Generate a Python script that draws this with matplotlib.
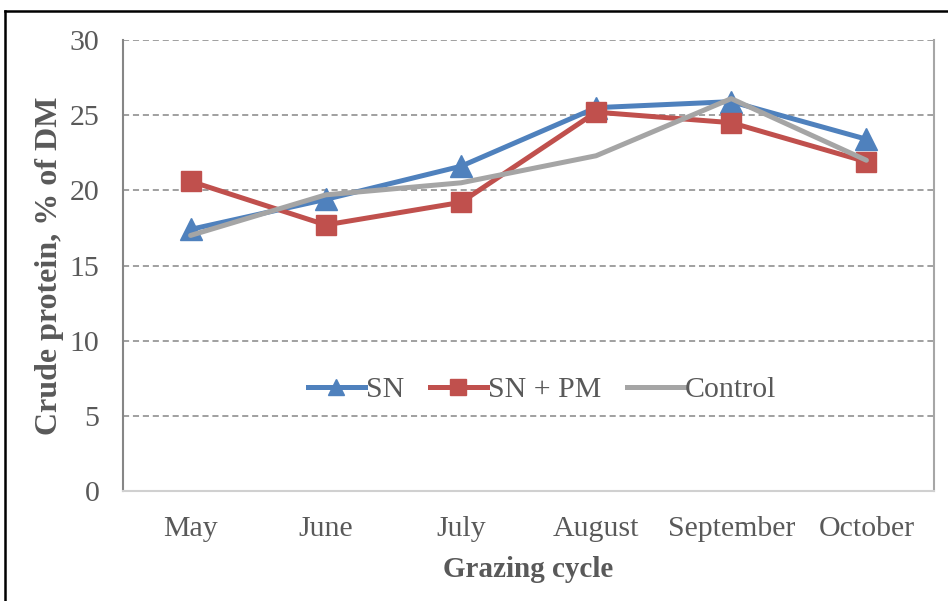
import matplotlib
matplotlib.use('Agg')
import matplotlib.pyplot as plt
from matplotlib.lines import Line2D

plt.rcParams['font.family'] = ['Liberation Serif', 'DejaVu Serif']

months = ['May', 'June', 'July', 'August', 'September', 'October']
sn = [17.4, 19.4, 21.6, 25.5, 25.9, 23.4]
sn_pm = [20.6, 17.7, 19.2, 25.2, 24.5, 21.9]
control = [17.0, 19.7, 20.5, 22.3, 26.1, 22.0]

text_color = '#595959'
W, H = 948, 601

fig = plt.figure(figsize=(W / 100, H / 100), dpi=100)
ax = fig.add_axes([123 / W, 1 - 491 / H, (934 - 123) / W, (491 - 40) / H])

x = list(range(len(months)))
ax.plot(x, sn, color='#4F81BD', lw=3.6, marker='^', ms=16, label='SN', zorder=3)
ax.plot(x, sn_pm, color='#C0504D', lw=3.6, marker='s', ms=15, label='SN + PM', zorder=4)
ax.plot(x, control, color='#A5A5A5', lw=3.6, label='Control', zorder=5,
        solid_capstyle='round')

ax.set_xlim(-0.5, 5.5)
ax.set_ylim(0, 30)
ax.set_yticks(range(0, 31, 5))
ax.set_xticks(x)
ax.set_xticklabels(months)
ax.tick_params(axis='both', length=0, labelsize=21.5, colors=text_color)
ax.tick_params(axis='y', pad=17)
ax.tick_params(axis='x', pad=18)

for yv in range(5, 31, 5):
    ax.axhline(yv, color='#868686', lw=1.1, ls=(0, (4, 2.5)), zorder=1)

ax.spines['top'].set_visible(False)
ax.spines['left'].set_color('#868686')
ax.spines['left'].set_linewidth(1.5)
ax.spines['right'].set_color('#a6a6a6')
ax.spines['right'].set_linewidth(1.5)
ax.spines['bottom'].set_color('#d0d0d0')
ax.spines['bottom'].set_linewidth(1.5)

ax.set_ylabel('Crude protein, % of DM', fontsize=23, fontweight='bold',
              color=text_color, labelpad=4)
ax.set_xlabel('Grazing cycle', fontsize=21, fontweight='bold',
              color=text_color, labelpad=10)

handles = [
    Line2D([], [], color='#4F81BD', lw=3.6, marker='^', ms=11),
    Line2D([], [], color='#C0504D', lw=3.6, marker='s', ms=11),
    Line2D([], [], color='#A5A5A5', lw=3.6),
]
leg = ax.legend(handles, ['SN', 'SN + PM', 'Control'], loc='center',
                bbox_to_anchor=(0.517, 0.224), ncol=3, frameon=False,
                fontsize=21.5, handlelength=1.9, handletextpad=0.05,
                columnspacing=0.85, labelcolor=text_color)

# page frame lines (top and left)
fig.add_artist(Line2D([5 / W, 5 / W], [0, 1 - 11 / H], color='black', lw=1.8))
fig.add_artist(Line2D([5 / W, 1], [1 - 11 / H, 1 - 11 / H], color='black', lw=1.8))

fig.savefig('out.png', dpi=100)
